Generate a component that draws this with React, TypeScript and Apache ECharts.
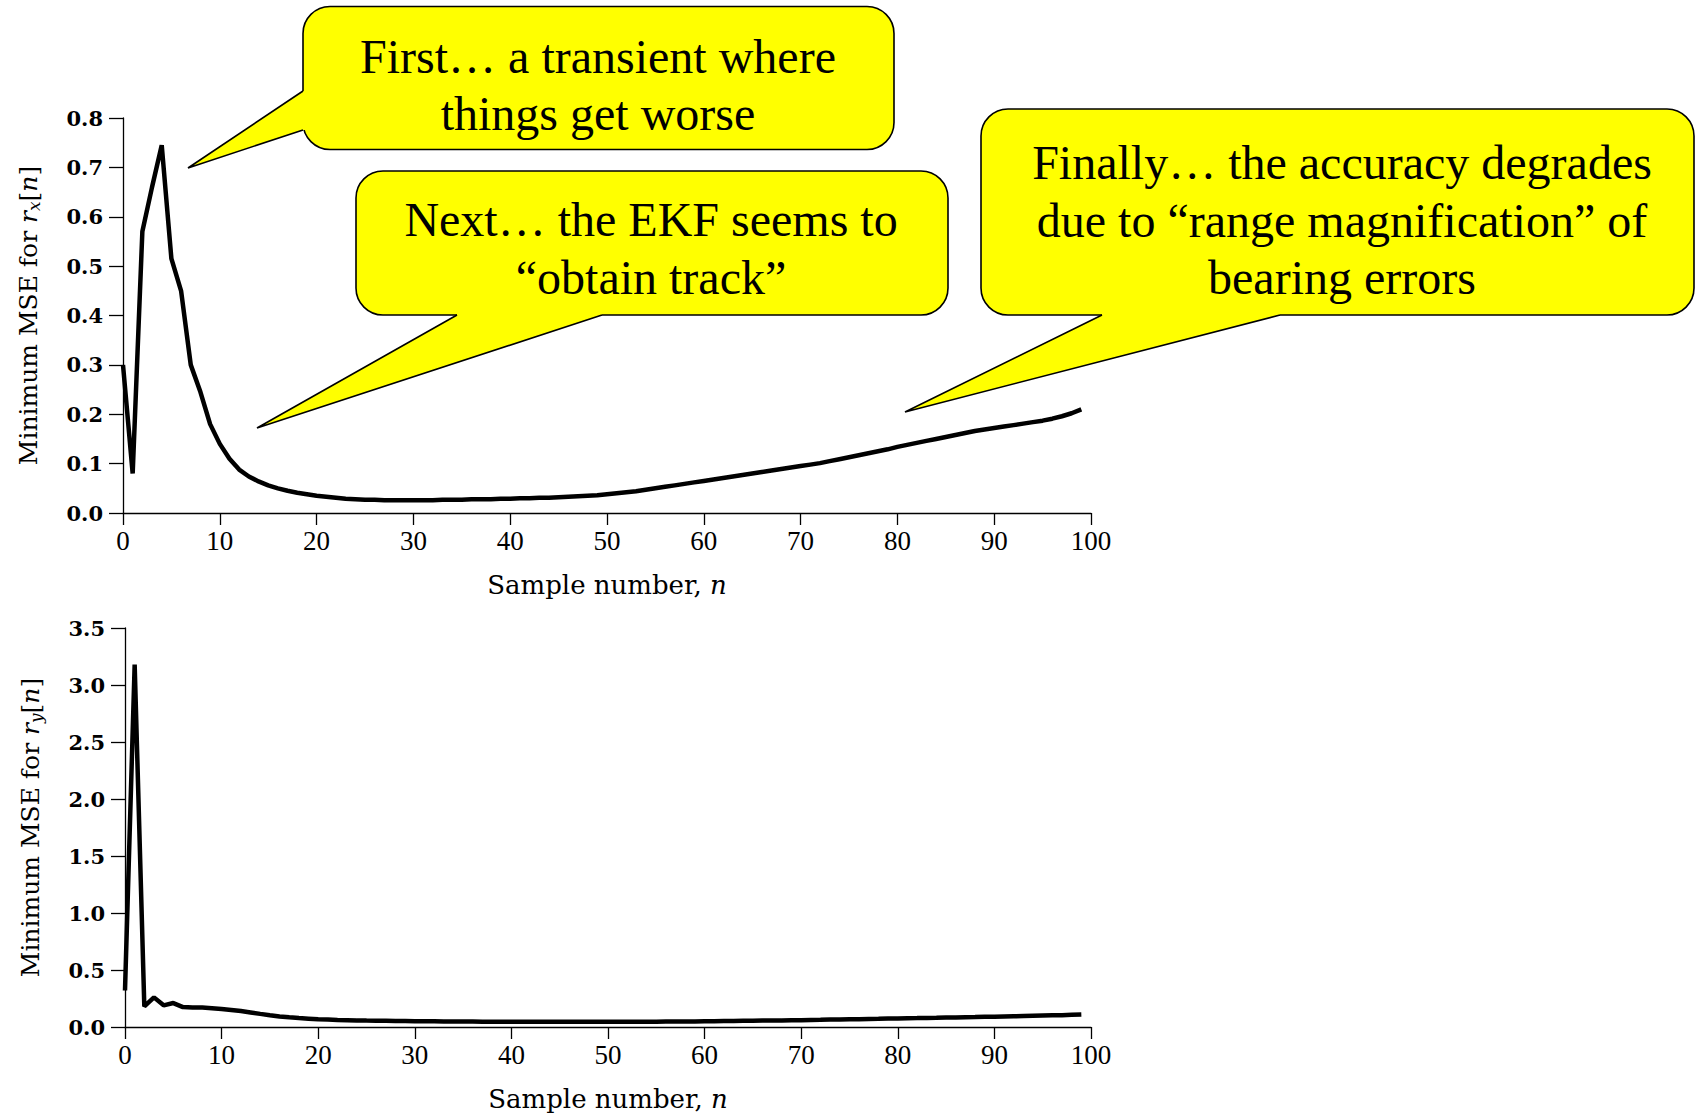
import React, { useEffect, useRef } from "react";
import * as echarts from "echarts";

// Sample index n (0..99)
const sampleNumbers: number[] = [
  0, 1, 2, 3, 4, 5, 6, 7, 8, 9, 10, 11, 12, 13, 14, 15, 16, 17, 18, 19,
  20, 21, 22, 23, 24, 25, 26, 27, 28, 29, 30, 31, 32, 33, 34, 35, 36, 37, 38, 39,
  40, 41, 42, 43, 44, 45, 46, 47, 48, 49, 50, 51, 52, 53, 54, 55, 56, 57, 58, 59,
  60, 61, 62, 63, 64, 65, 66, 67, 68, 69, 70, 71, 72, 73, 74, 75, 76, 77, 78, 79,
  80, 81, 82, 83, 84, 85, 86, 87, 88, 89, 90, 91, 92, 93, 94, 95, 96, 97, 98, 99,
];

// Minimum MSE for r_x[n]
const mseRx: number[] = [
  0.3, 0.08, 0.57, 0.66, 0.745, 0.515, 0.45, 0.3, 0.245, 0.18,
  0.14, 0.11, 0.088, 0.074, 0.064, 0.056, 0.05, 0.045, 0.041, 0.038,
  0.035, 0.033, 0.031, 0.029, 0.028, 0.027, 0.027, 0.026, 0.026, 0.026,
  0.026, 0.026, 0.026, 0.027, 0.027, 0.027, 0.028, 0.028, 0.028, 0.029,
  0.029, 0.03, 0.03, 0.031, 0.031, 0.032, 0.033, 0.034, 0.035, 0.036,
  0.038, 0.04, 0.042, 0.044, 0.047, 0.05, 0.053, 0.056, 0.059, 0.062,
  0.065, 0.068, 0.071, 0.074, 0.077, 0.08, 0.083, 0.086, 0.089, 0.092,
  0.095, 0.098, 0.101, 0.105, 0.109, 0.113, 0.117, 0.121, 0.125, 0.129,
  0.134, 0.138, 0.142, 0.146, 0.15, 0.154, 0.158, 0.162, 0.166, 0.169,
  0.172, 0.175, 0.178, 0.181, 0.184, 0.187, 0.191, 0.196, 0.202, 0.21,
];

// Minimum MSE for r_y[n]
const mseRy: number[] = [
  0.32, 3.18, 0.18, 0.26, 0.19, 0.21, 0.175, 0.172, 0.17, 0.165,
  0.158, 0.15, 0.14, 0.128, 0.115, 0.103, 0.093, 0.085, 0.078, 0.073,
  0.068, 0.065, 0.062, 0.06, 0.058, 0.056, 0.055, 0.054, 0.053, 0.052,
  0.051, 0.05, 0.05, 0.049, 0.049, 0.048, 0.048, 0.047, 0.047, 0.047,
  0.046, 0.046, 0.046, 0.045, 0.045, 0.045, 0.045, 0.045, 0.045, 0.045,
  0.045, 0.046, 0.046, 0.046, 0.047, 0.047, 0.048, 0.048, 0.049, 0.049,
  0.05, 0.051, 0.052, 0.053, 0.054, 0.055, 0.056, 0.057, 0.058, 0.059,
  0.06, 0.062, 0.063, 0.065, 0.066, 0.068, 0.069, 0.071, 0.072, 0.074,
  0.075, 0.077, 0.078, 0.08, 0.081, 0.083, 0.084, 0.086, 0.087, 0.089,
  0.09, 0.092, 0.094, 0.096, 0.098, 0.1, 0.102, 0.104, 0.107, 0.11,
];

const xAxisName = "{a|Sample number, }{i|n}";
const yAxisNameTop = "{a|Minimum MSE for }{i|r}{s|x}{a|[}{i|n}{a|]}";
const yAxisNameBottom = "{a|Minimum MSE for }{i|r}{s|y}{a|[}{i|n}{a|]}";

const calloutTexts: string[] = [
  "First… a transient where\nthings get worse",
  "Next… the EKF seems to\n“obtain track”",
  "Finally… the accuracy degrades\ndue to “range magnification” of\nbearing errors",
];

const YELLOW = "#FFFF00";

function callout(
  box: { x: number; y: number; w: number; h: number },
  j1: number[],
  tip: number[],
  j2: number[],
  inward: number[],
  text: string,
  cx: number,
  cy: number
): any[] {
  const j1in = [j1[0] + inward[0], j1[1] + inward[1]];
  const j2in = [j2[0] + inward[0], j2[1] + inward[1]];
  return [
    {
      type: "rect",
      z: 100,
      shape: { x: box.x, y: box.y, width: box.w, height: box.h, r: 27 },
      style: { fill: YELLOW, stroke: "#000", lineWidth: 1.6 },
    },
    {
      type: "polygon",
      z: 101,
      shape: { points: [j1in, j1, tip, j2, j2in] },
      style: { fill: YELLOW, stroke: null, lineWidth: 0 },
    },
    {
      type: "polyline",
      z: 102,
      shape: { points: [j1, tip, j2] },
      style: { fill: null, stroke: "#000", lineWidth: 1.6 },
    },
    {
      type: "text",
      z: 103,
      x: cx,
      y: cy,
      style: {
        text,
        fill: "#000",
        fontSize: 48,
        fontFamily: "Liberation Serif",
        align: "center",
        verticalAlign: "middle",
        lineHeight: 57.5,
      },
    },
  ];
}

function makeRich(size: number, subSize: number, subPad: number) {
  return {
    a: { fontFamily: "DejaVu Serif", fontSize: size, color: "#000" },
    i: { fontFamily: "DejaVu Serif", fontSize: size, fontStyle: "italic", color: "#000" },
    s: {
      fontFamily: "DejaVu Serif",
      fontSize: subSize,
      fontStyle: "italic",
      color: "#000",
      verticalAlign: "bottom",
      padding: [subPad, 0, 0, 0],
    },
  };
}

function xAxisCfg(gridIndex: number) {
  return {
    gridIndex,
    type: "value",
    min: 0,
    max: 100,
    interval: 10,
    splitLine: { show: false },
    axisLine: { show: true, onZero: false, lineStyle: { color: "#000", width: 1.3 } },
    axisTick: { show: true, length: 12, lineStyle: { color: "#000", width: 1.3 } },
    axisLabel: {
      color: "#000",
      fontFamily: "Liberation Serif",
      fontSize: 27,
      margin: 14,
    },
    name: xAxisName,
    nameLocation: "middle",
    nameGap: 59,
    nameTextStyle: { rich: makeRich(26, 17, 11) },
  };
}

function yAxisCfg(gridIndex: number, max: number, interval: number, name: string) {
  return {
    gridIndex,
    type: "value",
    min: 0,
    max,
    interval,
    splitLine: { show: false },
    axisLine: { show: true, lineStyle: { color: "#000", width: 1.3 } },
    axisTick: { show: true, length: 14, lineStyle: { color: "#000", width: 1.3 } },
    axisLabel: {
      color: "#000",
      fontFamily: "DejaVu Serif",
      fontSize: 21,
      fontWeight: "bold",
      margin: 20,
      formatter: (v: number) => v.toFixed(1),
    },
    name,
    nameLocation: "middle",
    nameRotate: 90,
    nameGap: 81,
    nameTextStyle: { rich: makeRich(25, 17, 11) },
  };
}

export default function App() {
  const ref = useRef<HTMLDivElement>(null);
  useEffect(() => {
    if (!ref.current) return;
    const chart = echarts.init(ref.current, null, { renderer: "svg" });
    const topData = sampleNumbers.map((n, i) => [n, mseRx[i]]);
    const botData = sampleNumbers.map((n, i) => [n, mseRy[i]]);
    const graphics = [
      ...callout(
        { x: 303, y: 6.5, w: 591, h: 143 },
        [303, 91],
        [188, 168],
        [303, 130],
        [4, 0],
        calloutTexts[0],
        598,
        85
      ),
      ...callout(
        { x: 356, y: 171, w: 592, h: 144 },
        [457, 315],
        [257, 428],
        [602, 315],
        [0, -4],
        calloutTexts[1],
        651,
        248.5
      ),
      ...callout(
        { x: 981, y: 109, w: 713, h: 206 },
        [1102, 315],
        [905, 412],
        [1280, 315],
        [0, -4],
        calloutTexts[2],
        1342,
        220
      ),
    ];
    chart.setOption({
      animation: false,
      backgroundColor: "#fff",
      grid: [
        { left: 123, top: 118, width: 968, height: 395 },
        { left: 125, top: 628, width: 966, height: 399 },
      ],
      xAxis: [xAxisCfg(0), xAxisCfg(1)],
      yAxis: [
        yAxisCfg(0, 0.8, 0.1, yAxisNameTop),
        yAxisCfg(1, 3.5, 0.5, yAxisNameBottom),
      ],
      series: [
        {
          type: "line",
          xAxisIndex: 0,
          yAxisIndex: 0,
          data: topData,
          showSymbol: false,
          lineStyle: { color: "#000", width: 4.5 },
          z: 5,
        },
        {
          type: "line",
          xAxisIndex: 1,
          yAxisIndex: 1,
          data: botData,
          showSymbol: false,
          lineStyle: { color: "#000", width: 4.5 },
          z: 5,
        },
      ],
      graphic: graphics,
    });
    return () => chart.dispose();
  }, []);
  return (
    <div
      ref={ref}
      style={{ position: "fixed", left: 0, top: 0, width: 1697, height: 1114, background: "#fff" }}
    />
  );
}
